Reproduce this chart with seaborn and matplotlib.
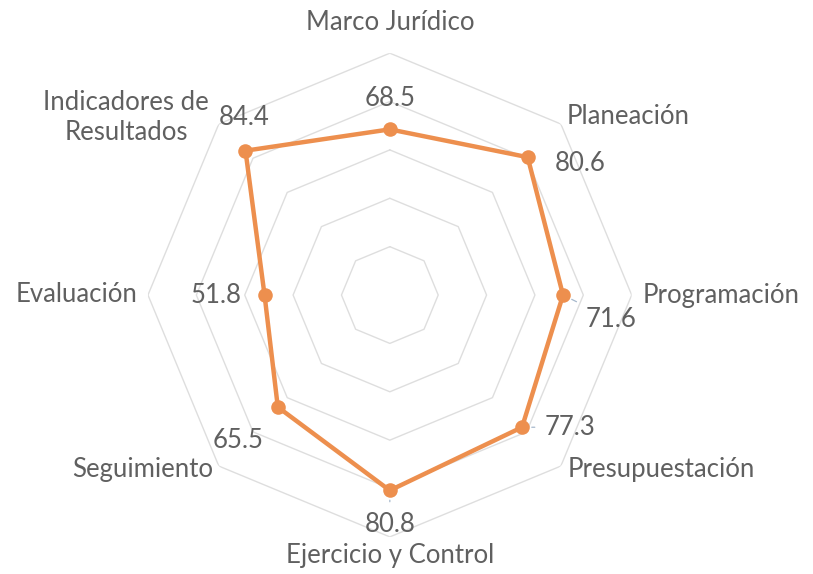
import numpy as np
import pandas as pd
import matplotlib
matplotlib.use("Agg")
import matplotlib.pyplot as plt
import seaborn as sns

categories = ["Marco Jurídico", "Planeación", "Programación", "Presupuestación",
              "Ejercicio y Control", "Seguimiento", "Evaluación",
              "Indicadores de\nResultados"]
values = [68.5, 80.6, 71.6, 77.3, 80.8, 65.5, 51.8, 84.4]
ring_levels = [20, 40, 60, 80, 100]

sns.set_theme(style="white")
plt.rcParams["font.family"] = ["Lato", "DejaVu Sans"]

TEXT = "#606060"
LINE = "#ED8F4E"
GRID = "#DEDEDE"
FS = 18.5

fig = plt.figure(figsize=(8.13, 5.74), dpi=100)
ax = fig.add_axes([0.182, 0.0645, 0.595, 0.843], projection="polar")
ax.set_theta_zero_location("N")
ax.set_theta_direction(-1)
ax.grid(False)
ax.spines["polar"].set_visible(False)
ax.patch.set_alpha(0)

n = len(categories)
angles = np.arange(n) * 2 * np.pi / n

# octagonal grid rings
for lv in ring_levels:
    th = np.append(angles, angles[0])
    ax.plot(th, [lv] * (n + 1), color=GRID, lw=1.0, zorder=1)

df = pd.DataFrame({"theta": np.append(angles, angles[0]),
                   "r": values + [values[0]]})
sns.lineplot(data=df, x="theta", y="r", sort=False, ax=ax, color=LINE,
             lw=3.2, zorder=3, estimator=None)
sns.scatterplot(data=df.iloc[:-1], x="theta", y="r", ax=ax, color=LINE,
                s=110, edgecolor=LINE, linewidth=0, zorder=4)
ax.set_xlabel("")
ax.set_ylabel("")
ax.set_xticks([])
ax.set_yticks([])
ax.set_ylim(0, 100)

# value labels: (dx, dy) pixel offsets, alignment, leader line
label_spec = [
    ((0, 31), "center", False),
    ((27, -6), "left", False),
    ((23, -24), "left", True),
    ((23, 0), "left", True),
    ((0, -34), "center", True),
    ((-40, -33), "center", False),
    ((-23, 0), "right", False),
    ((-1, 33), "center", False),
]
for a, v, (off, ha, lead) in zip(angles, values, label_spec):
    kw = {}
    if lead:
        kw["arrowprops"] = dict(arrowstyle="-", color="#A6B8CC", lw=0.9,
                                shrinkA=5, shrinkB=7)
    ax.annotate(f"{v:.1f}", xy=(a, v), xytext=off, textcoords="offset pixels",
                ha=ha, va="center", fontsize=FS, color=TEXT, zorder=5, **kw)

# category labels in figure pixel coordinates
cat_pos = [
    (390, 22, "center"),
    (567, 117, "left"),
    (643, 295, "left"),
    (568, 470, "left"),
    (390, 556, "center"),
    (213, 470, "right"),
    (137, 295, "right"),
    (126, 117, "center"),
]
W, H = 813, 574
for name, (px, py, ha) in zip(categories, cat_pos):
    fig.text(px / W, 1 - py / H, name, ha=ha, va="center", fontsize=FS,
             color=TEXT, linespacing=1.25)

fig.savefig("out.png", dpi=100, facecolor="white")
